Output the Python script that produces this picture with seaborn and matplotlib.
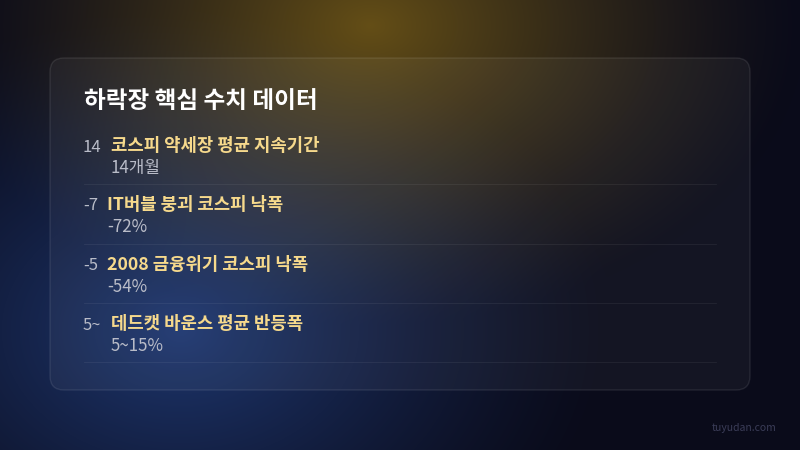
import numpy as np
import matplotlib
matplotlib.use("Agg")
import matplotlib.pyplot as plt
import seaborn as sns
from matplotlib.patches import FancyBboxPatch

# ---- data ----
title = "하락장 핵심 수치 데이터"
numbers = ["14", "-7", "-5", "5~"]
labels = ["코스피 약세장 평균 지속기간", "IT버블 붕괴 코스피 낙폭",
          "2008 금융위기 코스피 낙폭", "데드캣 바운스 평균 반등폭"]
values = ["14개월", "-72%", "-54%", "5~15%"]
credit = "tuyudan.com"

sns.set_theme(style="dark")
plt.rcParams['font.family'] = ['Noto Sans CJK KR', 'DejaVu Sans']

W, H = 800, 450
fig = plt.figure(figsize=(8, 4.5), dpi=100)
ax = fig.add_axes([0, 0, 1, 1])
ax.set_xlim(0, W)
ax.set_ylim(H, 0)
ax.axis("off")

# background gradient
yy, xx = np.mgrid[0:H, 0:W].astype(float)
base = np.array([10, 11, 26], float)
img = np.ones((H, W, 3)) * base
gold = np.array([100, 78, 22], float)
d1 = np.sqrt(((xx - 370) / 1.45) ** 2 + (yy - 25) ** 2)
w1 = np.clip(1 - d1 / 300, 0, 1) ** 1.3
blue = np.array([30, 55, 112], float)
d2 = np.sqrt(((xx - 180) / 1.35) ** 2 + ((yy - 330) / 1.0) ** 2)
w2 = np.clip(1 - d2 / 320, 0, 1) ** 1.3
img = img + w1[..., None] * (gold - base) + w2[..., None] * (blue - base)
img = np.clip(img, 0, 255) / 255.0
ax.imshow(img, extent=(0, W, H, 0), aspect="auto", zorder=0)

# panel
panel = FancyBboxPatch((50, 58), 700, 332, boxstyle="round,pad=0,rounding_size=14",
                       facecolor=(1, 1, 1, 0.045), edgecolor=(1, 1, 1, 0.09),
                       linewidth=1.0, zorder=1)
ax.add_patch(panel)

ax.text(84, 101, title, color="white", fontsize=17, fontweight="bold",
        va="center", ha="left", zorder=3)

row_y = [147, 206, 266, 325]
sep_y = [184, 244, 303, 362]
for i in range(len(numbers)):
    t = ax.text(83, row_y[i], numbers[i], color="#b9bcc8", fontsize=12,
                va="center", ha="left", zorder=3)
    lab = ax.annotate(labels[i], xy=(1, 0.5), xycoords=t, xytext=(6.5, 0.5),
                      textcoords="offset points", va="center", ha="left",
                      color="#f6d98c", fontsize=12.8, fontweight="bold", zorder=3)
    ax.annotate(values[i], xy=(0, 0.5), xycoords=lab, xytext=(0, -15.5),
                textcoords="offset points", va="center", ha="left",
                color="#b9bcc8", fontsize=12.2, zorder=3)
    ax.plot([84, 716], [sep_y[i], sep_y[i]], color=(1, 1, 1, 0.06), lw=0.8, zorder=2)

ax.text(776, 428, credit, color="#3b3d58", fontsize=7.5, ha="right", va="center", zorder=3)

fig.savefig("out.png", dpi=100)
